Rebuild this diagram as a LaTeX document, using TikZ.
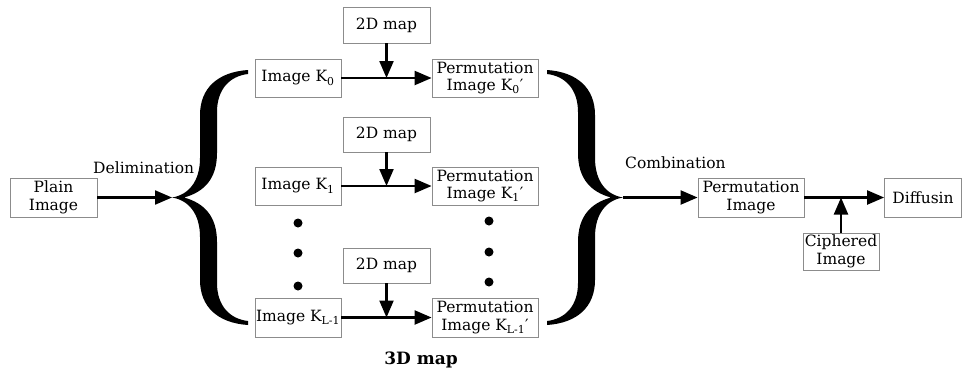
\documentclass[tikz,border=0pt]{standalone}
\usepackage{fontspec}
\setmainfont{DejaVu Serif}
\usetikzlibrary{arrows.meta}
\tikzset{
 box/.style={draw=black!45, line width=0.8pt, fill=white, inner sep=0pt, align=center, font=\fontsize{15.5}{17.5}\selectfont},
 arr/.style={line width=2.2pt, -{Triangle[length=17pt,width=14pt]}},
 blob/.style={circle, fill=black, inner sep=0pt, minimum size=9pt},
 lbl/.style={font=\fontsize{15.5}{17.5}\selectfont, inner sep=0pt},
 bracefill/.style={fill=black, draw=none}
}
\newcommand{\bracepath}{%
 (248,70) .. controls (218,72) and (200,88) .. (200,115)
 -- (200,158)
 .. controls (200,182) and (188,195) .. (172,197.5)
 .. controls (188,200) and (200,213) .. (200,237)
 -- (200,280)
 .. controls (200,307) and (218,323) .. (248,325)
 -- (248,321)
 .. controls (230,319) and (217,306) .. (217,283)
 -- (217,242)
 .. controls (217,216) and (204,203) .. (184,197.5)
 .. controls (204,192) and (217,179) .. (217,153)
 -- (217,112)
 .. controls (217,89) and (230,76) .. (248,74)
 -- cycle}
\begin{document}
\begin{tikzpicture}[x=1pt,y=-1pt]
\useasboundingbox (0,0) rectangle (963,378);
% labels behind braces
\node[lbl, anchor=west] (delim) at (93,168) {Delimination};
\node[lbl, anchor=west] (comb) at (625,163) {Combination};
\node[font=\bfseries\fontsize{17}{20}\selectfont, inner sep=0pt] (m3d) at (421,360) {3D map};
% braces
\fill[bracefill] \bracepath;
\coordinate (ltip) at (172,197.5);
\begin{scope}[xshift=795pt, xscale=-1]
\fill[bracefill] \bracepath;
\coordinate (rtip) at (172,197.5);
\end{scope}
% boxes
\node[box, minimum width=87pt, minimum height=39pt] (plain) at (53.5,197.5) {Plain\\Image};
\node[box, minimum width=86pt, minimum height=38pt] (img0) at (298,78) {Image K\textsubscript{0}};
\node[box, minimum width=86pt, minimum height=38pt] (img1) at (298,186) {Image K\textsubscript{1}};
\node[box, minimum width=86pt, minimum height=39pt] (imgL) at (298,317.5) {Image K\textsubscript{L-1}};
\node[box, minimum width=87pt, minimum height=36pt] (map1) at (386.5,25) {2D map};
\node[box, minimum width=87pt, minimum height=35pt] (map2) at (386.5,134.5) {2D map};
\node[box, minimum width=87pt, minimum height=35pt] (map3) at (386.5,265.5) {2D map};
\node[box, minimum width=106pt, minimum height=38pt] (perm0) at (485,78) {Permutation\\Image K\textsubscript{0}′};
\node[box, minimum width=106pt, minimum height=38pt] (perm1) at (485,186) {Permutation\\Image K\textsubscript{1}′};
\node[box, minimum width=106pt, minimum height=39pt] (permL) at (485,317.5) {Permutation\\Image K\textsubscript{L-1}′};
\node[box, minimum width=106pt, minimum height=39pt] (permimg) at (751,197.5) {Permutation\\Image};
\node[box, minimum width=77pt, minimum height=39pt] (diff) at (923,197.5) {Diffusin};
\node[box, minimum width=76pt, minimum height=37pt] (ciph) at (841,251.5) {Ciphered\\Image};
% dots
\node[blob] (d1) at (298,223) {};
\node[blob] (d2) at (298,253) {};
\node[blob] (d3) at (298,286) {};
\node[blob] (d4) at (489,221) {};
\node[blob] (d5) at (489,252) {};
\node[blob] (d6) at (489,282) {};
% connectors
\draw[arr] (plain) -- (ltip);
\draw[arr] (img0) -- (perm0);
\draw[arr] (img1) -- (perm1);
\draw[arr] (imgL) -- (permL);
\draw[arr] (map1) -- (map1 |- img0);
\draw[arr] (map2) -- (map2 |- img1);
\draw[arr] (map3) -- (map3 |- imgL);
\draw[arr] (rtip) -- (permimg);
\draw[arr] (permimg) -- (diff);
\draw[arr] (ciph) -- (ciph |- permimg);
\end{tikzpicture}
\end{document}
